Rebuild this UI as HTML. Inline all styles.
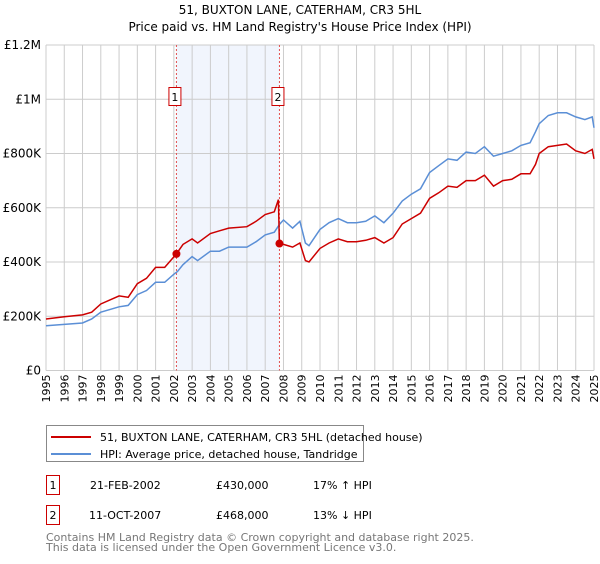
<!DOCTYPE html>
<html><head><meta charset="utf-8"><style>
body{margin:0;background:#fff;font-family:"DejaVu Sans","Liberation Sans",sans-serif;}
svg text{font-family:"DejaVu Sans","Liberation Sans",sans-serif;}
</style></head><body>
<svg id="c" width="600" height="560" xmlns="http://www.w3.org/2000/svg">
<text x="300" y="14" text-anchor="middle" font-size="12">51, BUXTON LANE, CATERHAM, CR3 5HL</text>
<text x="300" y="31" text-anchor="middle" font-size="12">Price paid vs. HM Land Registry's House Price Index (HPI)</text>
<g id="grid"></g><g id="series"></g>
<g>
<rect x="46.5" y="425.5" width="317" height="36" fill="#fff" stroke="#888"/>
<line x1="51" y1="437" x2="91" y2="437" stroke="#cc0000" stroke-width="2"/>
<text x="100" y="441" font-size="11">51, BUXTON LANE, CATERHAM, CR3 5HL (detached house)</text>
<line x1="51" y1="454" x2="91" y2="454" stroke="#5b8fd6" stroke-width="2"/>
<text x="100" y="458" font-size="11">HPI: Average price, detached house, Tandridge</text>
</g>
<g font-size="11">
<rect x="46.5" y="475.5" width="13" height="19" fill="#fff" stroke="#cc0000"/>
<text x="53" y="489" text-anchor="middle">1</text>
<text x="90" y="489">21-FEB-2002</text><text x="216" y="489">£430,000</text><text x="313" y="489">17% ↑ HPI</text>
<rect x="46.5" y="505.5" width="13" height="19" fill="#fff" stroke="#cc0000"/>
<text x="53" y="519" text-anchor="middle">2</text>
<text x="89" y="519">11-OCT-2007</text><text x="216" y="519">£468,000</text><text x="313" y="519">13% ↓ HPI</text>
</g>
<text x="46" y="541" font-size="11" fill="#777">Contains HM Land Registry data © Crown copyright and database right 2025.</text>
<text x="46" y="551" font-size="11" fill="#777">This data is licensed under the Open Government Licence v3.0.</text>
</svg>
<script>
const hpiYears=[1995,1996,1997,1997.5,1998,1999,1999.5,2000,2000.5,2001,2001.5,2002,2002.2,2002.5,2003,2003.3,2004,2004.5,2005,2006,2006.5,2007,2007.5,2007.8,2008,2008.5,2008.9,2009.2,2009.4,2010,2010.5,2011,2011.5,2012,2012.5,2013,2013.5,2014,2014.5,2015,2015.5,2016,2016.5,2017,2017.5,2018,2018.5,2019,2019.5,2020,2020.5,2021,2021.5,2021.8,2022,2022.5,2023,2023.5,2024,2024.5,2024.9,2025];
const hpiValues=[165,170,175,190,215,235,240,280,295,325,325,355,365,390,420,405,440,440,455,455,475,500,510,540,555,525,550,470,460,520,545,560,545,545,550,570,545,580,625,650,670,730,755,780,775,805,800,825,790,800,810,830,840,880,910,940,950,950,935,925,935,895];
const priceYears=[1995,1996,1997,1997.5,1998,1999,1999.5,2000,2000.5,2001,2001.5,2002.14,2002.5,2003,2003.3,2004,2004.5,2005,2006,2006.5,2007,2007.5,2007.72,2007.78,2008,2008.5,2008.9,2009.2,2009.4,2010,2010.5,2011,2011.5,2012,2012.5,2013,2013.5,2014,2014.5,2015,2015.5,2016,2016.5,2017,2017.5,2018,2018.5,2019,2019.5,2020,2020.5,2021,2021.5,2021.8,2022,2022.5,2023,2023.5,2024,2024.5,2024.9,2025];
const priceValues=[190,198,205,215,245,275,270,320,340,380,380,430,465,485,470,505,515,525,530,550,575,585,630,468,465,455,470,405,400,450,470,485,475,475,480,490,470,490,540,560,580,635,655,680,675,700,700,720,680,700,705,725,725,760,800,825,830,835,810,800,815,780];
const saleYears=[2002.14,2007.78];
const saleValues=[430,468];
const saleLabels=["1","2"];
const yTicks=[0,200,400,600,800,1000,1200];
const yTickLabels=["£0","£200K","£400K","£600K","£800K","£1M","£1.2M"];
const xTicks=[];for(let y=1995;y<=2025;y++)xTicks.push(y);

const X0=46,X1=594,Y0=370.5,Y1=45;
const xs=y=>X0+(y-1995)/30*(X1-X0);
const ys=v=>Y0-v/1200*(Y0-Y1);
const NS="http://www.w3.org/2000/svg";
function mk(tag,attrs,parent){const e=document.createElementNS(NS,tag);for(const k in attrs)e.setAttribute(k,attrs[k]);parent.appendChild(e);return e;}
const grid=document.getElementById('grid'),ser=document.getElementById('series');
const shade=mk('rect',{x:xs(saleYears[0]),y:Y1,width:xs(saleYears[1])-xs(saleYears[0]),height:Y0-Y1,fill:'#eef3fc',opacity:0.8},grid);


xTicks.forEach(t=>{
 const l=mk('line',{x1:xs(t),x2:xs(t),y1:Y1,y2:Y0,stroke:'#ccc'},grid);
 
 
 const tx=mk('text',{x:0,y:0,'font-size':11,'text-anchor':'end',transform:`translate(${xs(t)+4},${Y0+4}) rotate(-90)`},grid);
 tx.textContent=t;
 
 
});
yTicks.forEach((t,i)=>{
 const l=mk('line',{x1:X0,x2:X1,y1:ys(t),y2:ys(t),stroke:'#ccc'},grid);
 
 
 const tx=mk('text',{x:X0-5,y:ys(t)+4,'font-size':12,'text-anchor':'end'},grid);
 tx.textContent=yTickLabels[i];
 
 
});
saleYears.forEach((s,i)=>{
 const l=mk('line',{x1:xs(s),x2:xs(s),y1:Y1,y2:Y0,stroke:'#e05050','stroke-dasharray':'2,2'},ser);
 
 
 const r=mk('rect',{x:xs(s)-7.5,y:87.5,width:12,height:18,fill:'#fff',stroke:'#cc0000'},ser);
 
 
 const t=mk('text',{x:xs(s)-1.5,y:101,'font-size':11,'text-anchor':'middle'},ser);
 t.textContent=saleLabels[i];
 
 
});
const hp=mk('path',{d:hpiYears.map((y,i)=>(i?'L':'M')+xs(y).toFixed(1)+','+ys(hpiValues[i]).toFixed(1)).join(''),fill:'none',stroke:'#5b8fd6','stroke-width':1.5},ser);


const pp=mk('path',{d:priceYears.map((y,i)=>(i?'L':'M')+xs(y).toFixed(1)+','+ys(priceValues[i]).toFixed(1)).join(''),fill:'none',stroke:'#cc0000','stroke-width':1.5},ser);


saleYears.forEach((s,i)=>{
 const c=mk('circle',{cx:xs(s),cy:ys(saleValues[i]),r:4,fill:'#cc0000'},ser);
 
 
});
</script>
</body></html>
